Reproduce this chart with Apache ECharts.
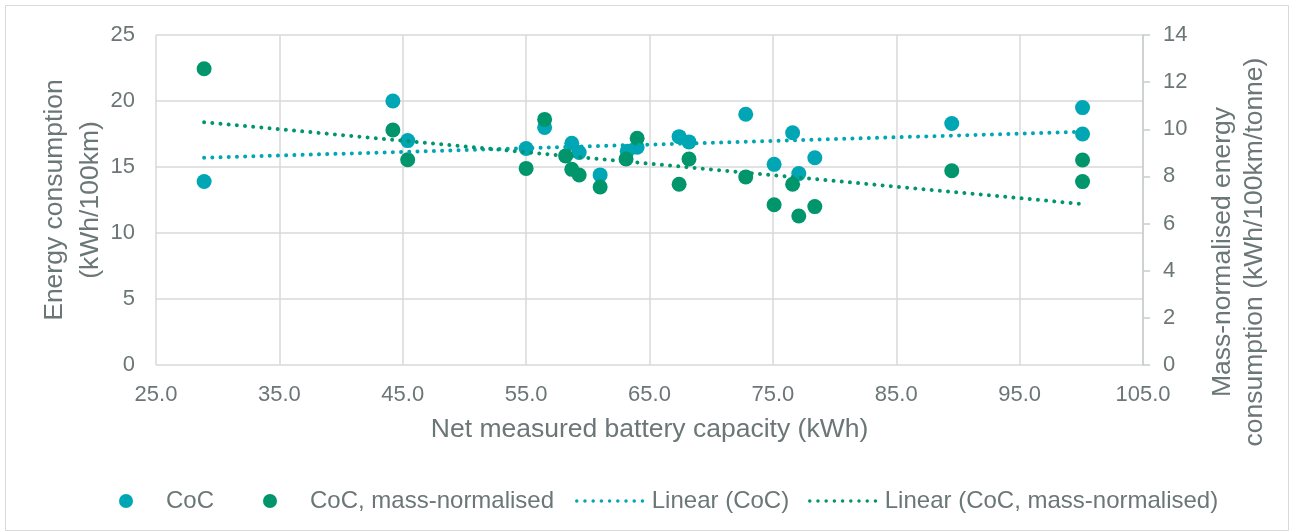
<!DOCTYPE html>
<html>
<head>
<meta charset="utf-8">
<script src="https://cdn.jsdelivr.net/npm/echarts@6/dist/echarts.min.js"></script>
<style>html,body{margin:0;padding:0;background:#fff;}#c{width:1292px;height:532px;}</style>
</head>
<body>
<div id="c"></div>
<script>
// Net measured battery capacity (kWh) and CoC energy consumption (kWh/100km)
const cocX = [28.9, 44.2, 45.4, 55.0, 56.5, 58.7, 59.3, 61.0, 63.2, 64.0, 67.4, 68.2, 72.8, 75.1, 76.6, 77.1, 78.4, 89.5, 100.1, 100.1];
const cocY = [13.9, 20.0, 17.0, 16.4, 18.0, 16.8, 16.1, 14.4, 16.2, 16.5, 17.3, 16.9, 19.0, 15.2, 17.6, 14.5, 15.7, 18.3, 19.5, 17.5];
// Mass-normalised energy consumption (kWh/100km/tonne)
const massX = [28.9, 44.2, 45.4, 55.0, 56.5, 58.2, 58.7, 59.3, 61.0, 63.1, 64.0, 67.4, 68.2, 72.8, 75.1, 76.6, 77.1, 78.4, 89.5, 100.1, 100.1];
const massY = [12.57, 9.97, 8.71, 8.34, 10.42, 8.87, 8.30, 8.06, 7.55, 8.74, 9.62, 7.67, 8.74, 7.98, 6.80, 7.67, 6.32, 6.72, 8.24, 8.70, 7.78];
// Linear trendline end points
const trendCocX = [28.9, 100.1];
const trendCocY = [15.70, 17.67];
const trendMassX = [28.9, 100.1];
const trendMassY = [10.30, 6.83];

const seriesNames = ['CoC', 'CoC, mass-normalised', 'Linear (CoC)', 'Linear (CoC, mass-normalised)'];
const TEAL = '#00A6B4';
const GREEN = '#00956B';
const TXT = '#6b7676';
const FONT = '"Liberation Sans", Arial, sans-serif';
const DOTS = [0.01, 8.2];

const zip = (a, b) => a.map((v, i) => [v, b[i]]);

const chart = echarts.init(document.getElementById('c'), null, {renderer: 'canvas'});
const legendBase = {
  orient: 'horizontal', top: 484, itemWidth: 70, itemHeight: 14,
  textStyle: {fontFamily: FONT, fontSize: 24, color: TXT},
  selectedMode: false
};
chart.setOption({
  animation: false,
  backgroundColor: '#fff',
  graphic: [{
    type: 'rect', shape: {x: 5.5, y: 5.5, width: 1283, height: 525},
    style: {fill: null, stroke: '#d9d9d9', lineWidth: 1}, silent: true, z: -10
  }],
  grid: {left: 156, right: 149, top: 35, bottom: 167, containLabel: false, outerBoundsMode: 'none'},
  legend: [
    Object.assign({}, legendBase, {left: 114, data: [{name: seriesNames[0], icon: 'circle'}]}),
    Object.assign({}, legendBase, {left: 258, data: [{name: seriesNames[1], icon: 'circle'}]}),
    Object.assign({}, legendBase, {left: 570, itemStyle: {opacity: 0},
      lineStyle: {width: 3.5, type: DOTS, cap: 'round'}, data: [seriesNames[2]]}),
    Object.assign({}, legendBase, {left: 803, itemStyle: {opacity: 0},
      lineStyle: {width: 3.5, type: DOTS, cap: 'round'}, data: [seriesNames[3]]})
  ],
  xAxis: {
    type: 'value', min: 25, max: 105, interval: 10,
    name: 'Net measured battery capacity (kWh)', nameLocation: 'middle', nameGap: 51,
    nameTextStyle: {fontFamily: FONT, fontSize: 26.5, color: TXT},
    axisLine: {show: false}, axisTick: {show: false},
    axisLabel: {fontFamily: FONT, fontSize: 22, color: TXT, margin: 19, formatter: v => v.toFixed(1)},
    splitLine: {show: true, lineStyle: {color: '#d9d9d9', width: 1.5}}
  },
  yAxis: [{
    type: 'value', min: 0, max: 25, interval: 5, position: 'left',
    name: 'Energy consumption\n(kWh/100km)', nameLocation: 'middle', nameGap: 47, nameRotate: 90,
    nameMoveOverlap: false,
    nameTextStyle: {fontFamily: FONT, fontSize: 26.5, color: TXT, lineHeight: 36},
    axisLine: {show: false}, axisTick: {show: false},
    axisLabel: {fontFamily: FONT, fontSize: 22, color: TXT, margin: 21},
    splitLine: {show: true, lineStyle: {color: '#d9d9d9', width: 1.5}}
  }, {
    type: 'value', min: 0, max: 14, interval: 2, position: 'right',
    name: 'Mass-normalised energy\nconsumption (kWh/100km/tonne)', nameLocation: 'middle', nameGap: 64, nameRotate: 90,
    nameTextStyle: {fontFamily: FONT, fontSize: 26.5, color: TXT, lineHeight: 32, padding: [0, 104, 0, 0]},
    axisLine: {show: true, lineStyle: {color: '#c9cdcd', width: 1.5}},
    axisTick: {show: true, length: 7, lineStyle: {color: '#c9cdcd', width: 1.5}},
    axisLabel: {fontFamily: FONT, fontSize: 22, color: TXT, margin: 20},
    splitLine: {show: false}
  }],
  series: [{
    name: seriesNames[0], type: 'scatter', yAxisIndex: 0, symbol: 'circle', symbolSize: 15,
    itemStyle: {color: TEAL, opacity: 1}, data: zip(cocX, cocY), z: 2
  }, {
    name: seriesNames[1], type: 'scatter', yAxisIndex: 1, symbol: 'circle', symbolSize: 15,
    itemStyle: {color: GREEN, opacity: 1}, data: zip(massX, massY), z: 3
  }, {
    name: seriesNames[2], type: 'line', yAxisIndex: 0, showSymbol: false, symbol: 'none',
    lineStyle: {color: TEAL, width: 4, type: DOTS, cap: 'round'},
    itemStyle: {color: TEAL},
    data: zip(trendCocX, trendCocY), z: 4
  }, {
    name: seriesNames[3], type: 'line', yAxisIndex: 1, showSymbol: false, symbol: 'none',
    lineStyle: {color: GREEN, width: 4, type: DOTS, cap: 'round'},
    itemStyle: {color: GREEN},
    data: zip(trendMassX, trendMassY), z: 4
  }]
});
</script>
</body>
</html>
